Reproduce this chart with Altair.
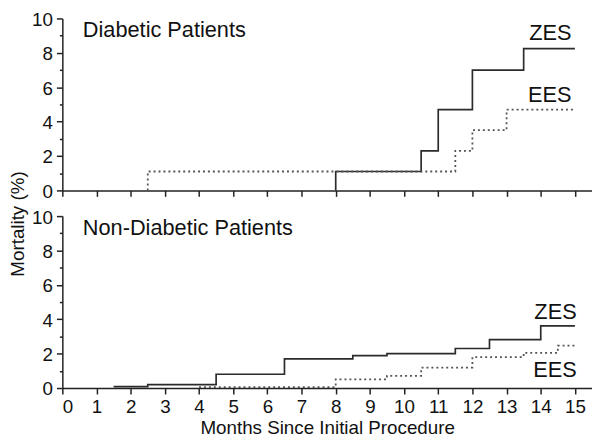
import altair as alt
import pandas as pd

FONT = "Liberation Sans"

# ---- data ----
month_ticks = list(range(0, 16))
mort_ticks = list(range(0, 11))

panel_titles = ["Diabetic Patients", "Non-Diabetic Patients"]

# Diabetic patients
dm_zes_months = [8, 8, 10.5, 11, 12, 13.5, 15]
dm_zes_mort = [0, 1.1, 2.3, 4.7, 7.0, 8.25, 8.25]
dm_ees_months = [2.5, 2.5, 11.5, 12, 13, 15]
dm_ees_mort = [0, 1.1, 2.3, 3.5, 4.7, 4.7]

# Non-diabetic patients
nd_zes_months = [1.5, 2.5, 4.5, 6.5, 8.5, 9.5, 11.5, 12.5, 14, 15]
nd_zes_mort = [0.08, 0.2, 0.8, 1.7, 1.88, 2.0, 2.3, 2.82, 3.62, 3.62]
nd_ees_months = [4, 8, 9.5, 10.5, 12, 13.5, 14.5, 15]
nd_ees_mort = [0.05, 0.5, 0.71, 1.19, 1.8, 2.05, 2.47, 2.47]

series_names = ["ZES", "EES"]
# series label anchors (months, mortality) per panel
dm_label_months = [14.9, 14.9]
dm_label_mort = [8.75, 5.15]
nd_label_months = [15.05, 15.05]
nd_label_mort = [4.0, 0.62]
title_month = 0.6
title_mort = 8.9

X_DOMAIN = [0, 15.5]
Y_DOMAIN = [0, 10]
W, H = 536, 174

zes_color = "#2b2b2b"
ees_color = "#555555"


def series_df(months, mort):
    return pd.DataFrame({"month": months, "mort": mort, "idx": list(range(len(months)))})


def panel(title, zes, ees, lab_m, lab_y, show_x):
    xaxis = alt.Axis(
        values=month_ticks,
        labels=show_x,
        labelOverlap=False,
        title="Months Since Initial Procedure" if show_x else None,
        tickSize=6,
        grid=False,
    )
    yaxis = alt.Axis(
        values=mort_ticks,
        labelOverlap=False,
        labelBaseline="alphabetic",
        labelOffset=7,
        labelExpr="datum.value % 2 == 0 ? datum.label : ''",
        tickSize={"condition": {"test": "datum.value % 2 == 1", "value": 3}, "value": 6},
        title=None,
        grid=False,
    )
    x = alt.X("month:Q", scale=alt.Scale(domain=X_DOMAIN, nice=False, zero=False), axis=xaxis)
    y = alt.Y("mort:Q", scale=alt.Scale(domain=Y_DOMAIN, nice=False), axis=yaxis)

    zes_line = alt.Chart(series_df(*zes)).mark_line(
        interpolate="step-after", color=zes_color, strokeWidth=1.7
    ).encode(x=x, y=y, order="idx:Q")
    ees_line = alt.Chart(series_df(*ees)).mark_line(
        interpolate="step-after", color=ees_color, strokeWidth=1.8, strokeDash=[2, 3]
    ).encode(x=x, y=y, order="idx:Q")

    labels = alt.Chart(
        pd.DataFrame({"month": lab_m, "mort": lab_y, "name": series_names})
    ).mark_text(align="right", baseline="alphabetic", font=FONT, fontSize=22, color="#111").encode(
        x=x, y=y, text="name:N"
    )
    ttl = alt.Chart(
        pd.DataFrame({"month": [title_month], "mort": [title_mort], "name": [title]})
    ).mark_text(align="left", baseline="alphabetic", font=FONT, fontSize=22, color="#111").encode(
        x=x, y=y, text="name:N"
    )
    return alt.layer(zes_line, ees_line, labels, ttl).properties(width=W, height=H)


top = panel(panel_titles[0], (dm_zes_months, dm_zes_mort), (dm_ees_months, dm_ees_mort),
            dm_label_months, dm_label_mort, False)
bottom = panel(panel_titles[1], (nd_zes_months, nd_zes_mort), (nd_ees_months, nd_ees_mort),
               nd_label_months, nd_label_mort, True)

chart = (
    alt.vconcat(top, bottom, spacing=7)
    .properties(
        title=alt.TitleParams(
            "Mortality (%)", orient="left", anchor="middle", font=FONT, fontSize=19,
            fontWeight="normal", color="#111", offset=4,
        ),
        padding={"left": 0, "top": 0, "right": 0, "bottom": 0},
    )
    .configure_view(stroke=None)
    .configure_axis(
        labelFont=FONT, labelFontSize=19, labelColor="#111", labelPadding=4,
        titleFont=FONT, titleFontSize=19, titleFontWeight="normal", titleColor="#111", titlePadding=2,
        domainColor="#222", tickColor="#222", domainWidth=1.5, tickWidth=1.5,
    )
)

chart.save("out.html", embed_options={"renderer": "svg", "actions": False})
